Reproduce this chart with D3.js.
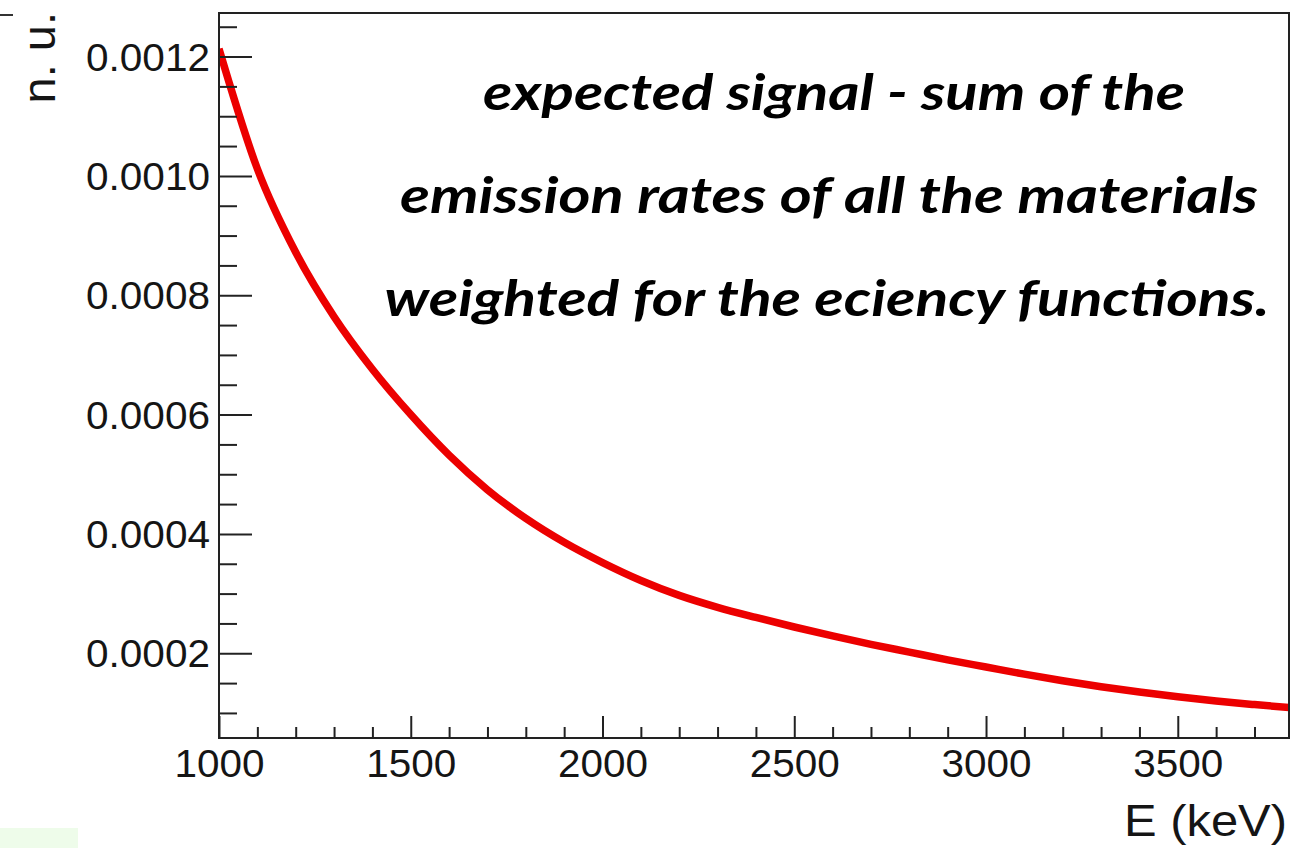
<!DOCTYPE html>
<html>
<head>
<meta charset="utf-8">
<script src="https://cdn.jsdelivr.net/npm/d3@7"></script>
<style>
  html, body { margin: 0; padding: 0; background: #fff; }
  svg { display: block; }
  .tick-label { font-family: "Liberation Sans", Arial, sans-serif; fill: #151515; }
  .note { font-family: "Lato", "DejaVu Sans", sans-serif; font-style: italic; font-weight: 700; fill: #000; }
</style>
</head>
<body>
<svg id="chart" width="1305" height="848"></svg>
<script>
// Energy grid (keV) and the summed, efficiency-weighted emission rate (n. u.)
const energy = [1000, 1100, 1200, 1300, 1400, 1500, 1600, 1700, 1800, 1900,
                2000, 2100, 2200, 2300, 2400, 2500, 2600, 2700, 2800, 2900,
                3000, 3100, 3200, 3300, 3400, 3500, 3600, 3700, 3790];
const signal = [0.001213, 0.001012, 0.000872, 0.000764, 0.000676, 0.000600, 0.000532, 0.000474, 0.000426, 0.000386,
                0.000352, 0.000322, 0.000297, 0.000277, 0.000260, 0.000244, 0.000229, 0.000215, 0.000202, 0.000189,
                0.000177, 0.000165, 0.000154, 0.000144, 0.000135, 0.000127, 0.000120, 0.000114, 0.000109];

// Axis ranges and tick labels
const xDomain = [1000, 3790];
const yDomain = [0.000058, 0.001273];
const xMajorTicks = [1000, 1500, 2000, 2500, 3000, 3500];
const yMajorTicks = [0.0002, 0.0004, 0.0006, 0.0008, 0.0010, 0.0012];
const xTitle = "E (keV)";
const yTitle = "n. u.";
const noteLines = [
  "expected signal - sum of the",
  "emission rates of all the materials",
  "weighted for the eciency functions."
];

const svg = d3.select("#chart");
const frame = { left: 219, right: 1289, top: 13, bottom: 738 };

const x = d3.scaleLinear().domain(xDomain).range([frame.left, frame.right]);
const y = d3.scaleLinear().domain(yDomain).range([frame.bottom, frame.top]);

// minor tick positions every 100 keV and every 0.00005
const xMinor = d3.range(1100, xDomain[1], 100).filter(v => v % 500 !== 0);
const yMinor = d3.range(1, 26).map(i => i * 0.00005)
  .filter(v => v > yDomain[0] && v < yDomain[1])
  .filter(v => Math.abs((v / 0.0002) - Math.round(v / 0.0002)) > 1e-6);

// small stray marks at the slide edges
svg.append("line").attr("x1", 0).attr("x2", 13).attr("y1", 15).attr("y2", 15)
  .attr("stroke", "#333").attr("stroke-width", 2);
svg.append("rect").attr("x", 0).attr("y", 828).attr("width", 78).attr("height", 20)
  .attr("fill", "#eefcea");

// curve, clipped to the frame
svg.append("clipPath").attr("id", "plot-clip")
  .append("rect").attr("x", frame.left).attr("y", frame.top)
  .attr("width", frame.right - frame.left).attr("height", frame.bottom - frame.top);

const series = energy.map((e, i) => ({ e, v: signal[i] }));
const line = d3.line().x(d => x(d.e)).y(d => y(d.v)).curve(d3.curveMonotoneX);
svg.append("path")
  .datum(series)
  .attr("clip-path", "url(#plot-clip)")
  .attr("d", line)
  .attr("fill", "none")
  .attr("stroke", "#ec0000")
  .attr("stroke-width", 7.5);

// Bottom axis: ticks drawn inward (upward)
const gx = svg.append("g").attr("transform", `translate(0,${frame.bottom})`);
gx.call(d3.axisBottom(x).tickValues(xMinor).tickSize(-11).tickFormat(""));
gx.call(g => g.select(".domain").remove());
const gxMaj = svg.append("g").attr("transform", `translate(0,${frame.bottom})`);
gxMaj.call(d3.axisBottom(x).tickValues(xMajorTicks).tickSize(-22).tickFormat(d3.format("d")));
gxMaj.select(".domain").remove();
gxMaj.selectAll("text")
  .attr("class", "tick-label")
  .attr("y", 39).attr("dy", null)
  .attr("font-size", 38)
  .attr("textLength", 90)
  .attr("lengthAdjust", "spacingAndGlyphs");
svg.selectAll(".tick line").attr("stroke", "#222").attr("stroke-width", 2);

// Left axis: ticks drawn inward (rightward)
const gy = svg.append("g").attr("transform", `translate(${frame.left},0)`);
gy.call(d3.axisLeft(y).tickValues(yMinor).tickSize(-18).tickFormat(""));
gy.select(".domain").remove();
const gyMaj = svg.append("g").attr("transform", `translate(${frame.left},0)`);
gyMaj.call(d3.axisLeft(y).tickValues(yMajorTicks).tickSize(-33).tickFormat(d3.format(".4f")));
gyMaj.select(".domain").remove();
gyMaj.selectAll("text")
  .attr("class", "tick-label")
  .attr("x", -9).attr("dy", "0.36em")
  .attr("font-size", 38)
  .attr("text-anchor", "end")
  .attr("textLength", 124)
  .attr("lengthAdjust", "spacingAndGlyphs");
svg.selectAll(".tick line").attr("stroke", "#222").attr("stroke-width", 2);

// frame box
svg.append("rect")
  .attr("x", frame.left).attr("y", frame.top)
  .attr("width", frame.right - frame.left).attr("height", frame.bottom - frame.top)
  .attr("fill", "none").attr("stroke", "#222").attr("stroke-width", 2);

// axis titles
svg.append("text")
  .attr("class", "tick-label")
  .attr("x", 1287).attr("y", 836)
  .attr("text-anchor", "end")
  .attr("font-size", 45)
  .attr("textLength", 163)
  .attr("lengthAdjust", "spacingAndGlyphs")
  .text(xTitle);

svg.append("text")
  .attr("class", "tick-label")
  .attr("transform", "translate(55,12) rotate(-90)")
  .attr("text-anchor", "end")
  .attr("font-size", 47)
  .text(yTitle);

// annotation
const noteLayout = [
  { cx: 834, base: 110, w: 702 },
  { cx: 829, base: 213, w: 858 },
  { cx: 827, base: 316, w: 885 }
];
svg.selectAll("text.note")
  .data(noteLines)
  .join("text")
  .attr("class", "note")
  .attr("x", (d, i) => noteLayout[i].cx)
  .attr("y", (d, i) => noteLayout[i].base)
  .attr("text-anchor", "middle")
  .attr("font-size", 50)
  .attr("textLength", (d, i) => noteLayout[i].w)
  .attr("lengthAdjust", "spacingAndGlyphs")
  .text(d => d);
</script>
</body>
</html>
